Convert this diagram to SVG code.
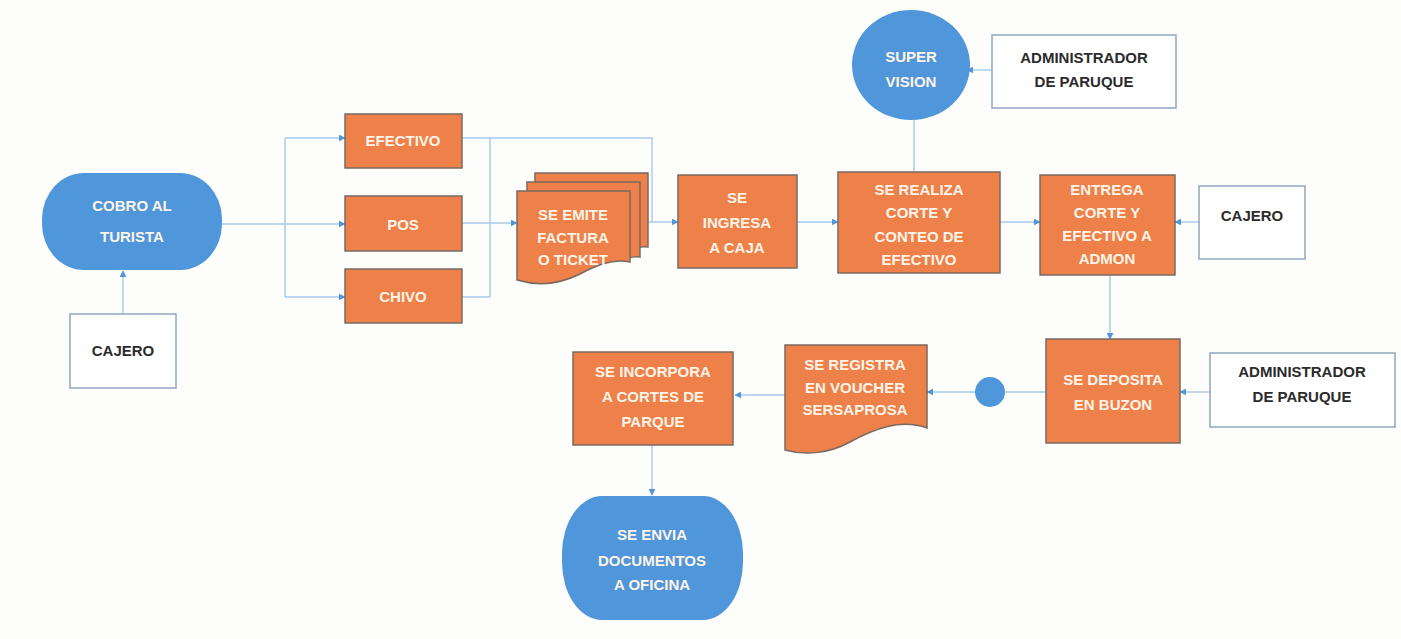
<svg xmlns="http://www.w3.org/2000/svg" width="1401" height="639" viewBox="0 0 1401 639">
<style>
.bg{fill:#fdfdfc}
.proc{fill:#ee8049;stroke:#7a6a62;stroke-width:1.5}
.term{fill:#4f96db;stroke:none}
.actor{fill:#ffffff;stroke:#8ea6bd;stroke-width:1.5}
.wt{font-family:"Liberation Sans",Arial,sans-serif;font-weight:bold;font-size:15px;fill:#fff4e8;text-anchor:middle}
.dt{font-family:"Liberation Sans",Arial,sans-serif;font-weight:bold;font-size:15px;fill:#2b2b2b;text-anchor:middle}
.c{fill:none;stroke:#a8c8e8;stroke-width:1.4}
</style>
<defs>
<marker id="ah" viewBox="0 0 10 10" refX="9" refY="5" markerWidth="7" markerHeight="7" orient="auto" markerUnits="userSpaceOnUse">
<path d="M0,0 L10,5 L0,10 z" fill="#4f96db"/>
</marker>
</defs>
<rect class="bg" x="0" y="0" width="1401" height="639"/>

<g id="connectors">
<path class="c" d="M123,314 V271" marker-end="url(#ah)"/>
<path class="c" d="M222,224 H285"/>
<path class="c" d="M285,138 V297"/>
<path class="c" d="M285,138 H345" marker-end="url(#ah)"/>
<path class="c" d="M285,224 H345" marker-end="url(#ah)"/>
<path class="c" d="M285,297 H345" marker-end="url(#ah)"/>
<path class="c" d="M462,138 H652 V222"/>
<path class="c" d="M462,297 H490 M490,138 V297"/>
<path class="c" d="M462,223 H517" marker-end="url(#ah)"/>
<path class="c" d="M648,222 H678" marker-end="url(#ah)"/>
<path class="c" d="M797,222 H838" marker-end="url(#ah)"/>
<path class="c" d="M1000,222 H1040" marker-end="url(#ah)"/>
<path class="c" d="M1199,222 H1175" marker-end="url(#ah)"/>
<path class="c" d="M914,120 V172"/>
<path class="c" d="M992,70 H967" marker-end="url(#ah)"/>
<path class="c" d="M1110,275 V339" marker-end="url(#ah)"/>
<path class="c" d="M1210,392 H1180" marker-end="url(#ah)"/>
<path class="c" d="M1046,392 H1005"/>
<path class="c" d="M975,392 H927" marker-end="url(#ah)"/>
<path class="c" d="M785,395 H735" marker-end="url(#ah)"/>
<path class="c" d="M652,445 V495" marker-end="url(#ah)"/>
</g>

<g id="cobro">
<rect class="term" x="42" y="173" width="180" height="97" rx="42" ry="46"/>
<text class="wt" x="132" y="211">COBRO AL</text>
<text class="wt" x="132" y="242">TURISTA</text>
</g>

<g id="cajero1">
<rect class="actor" x="70" y="314" width="106" height="74"/>
<text class="dt" x="123" y="356">CAJERO</text>
</g>

<g id="efectivo">
<rect class="proc" x="345" y="114" width="117" height="54"/>
<text class="wt" x="403" y="146">EFECTIVO</text>
</g>

<g id="pos">
<rect class="proc" x="345" y="196" width="117" height="55"/>
<text class="wt" x="403" y="230">POS</text>
</g>

<g id="chivo">
<rect class="proc" x="345" y="269" width="117" height="54"/>
<text class="wt" x="403" y="302">CHIVO</text>
</g>

<g id="factura">
<path class="proc" d="M535,173 H648 V247 C640,246 640,247 630,249 L535,250 Z"/>
<path class="proc" d="M527,182 H640 V257 C634,256 632,257 625,259 L527,260 Z"/>
<path class="proc" d="M517,191 H630 V262 C612,258 595,266 580,274 C560,284 540,287 517,280 Z"/>
<text class="wt" x="573" y="220">SE EMITE</text>
<text class="wt" x="573" y="243">FACTURA</text>
<text class="wt" x="573" y="265">O TICKET</text>
</g>

<g id="ingresa">
<rect class="proc" x="678" y="175" width="119" height="93"/>
<text class="wt" x="737" y="203">SE</text>
<text class="wt" x="737" y="228">INGRESA</text>
<text class="wt" x="737" y="253">A CAJA</text>
</g>

<g id="supervision">
<ellipse class="term" cx="911" cy="65" rx="59" ry="55"/>
<text class="wt" x="911" y="62">SUPER</text>
<text class="wt" x="911" y="87">VISION</text>
</g>

<g id="admin1">
<rect class="actor" x="992" y="35" width="184" height="73"/>
<text class="dt" x="1084" y="63">ADMINISTRADOR</text>
<text class="dt" x="1084" y="87">DE PARUQUE</text>
</g>

<g id="corte">
<rect class="proc" x="838" y="172" width="162" height="101"/>
<text class="wt" x="919" y="195">SE REALIZA</text>
<text class="wt" x="919" y="218">CORTE Y</text>
<text class="wt" x="919" y="242">CONTEO DE</text>
<text class="wt" x="919" y="265">EFECTIVO</text>
</g>

<g id="entrega">
<rect class="proc" x="1040" y="175" width="135" height="100"/>
<text class="wt" x="1107" y="195">ENTREGA</text>
<text class="wt" x="1107" y="218">CORTE Y</text>
<text class="wt" x="1107" y="241">EFECTIVO A</text>
<text class="wt" x="1107" y="264">ADMON</text>
</g>

<g id="cajero2">
<rect class="actor" x="1199" y="186" width="106" height="73"/>
<text class="dt" x="1252" y="221">CAJERO</text>
</g>

<g id="deposita">
<rect class="proc" x="1046" y="339" width="134" height="104"/>
<text class="wt" x="1113" y="385">SE DEPOSITA</text>
<text class="wt" x="1113" y="410">EN BUZON</text>
</g>

<g id="admin2">
<rect class="actor" x="1210" y="353" width="185" height="74"/>
<text class="dt" x="1302" y="377">ADMINISTRADOR</text>
<text class="dt" x="1302" y="402">DE PARUQUE</text>
</g>

<g id="buzon">
<circle class="term" cx="990" cy="392" r="15"/>
</g>

<g id="voucher">
<path class="proc" d="M785,345 H927 V428 C900,418 872,430 850,442 C830,453 806,456 785,450 Z"/>
<text class="wt" x="855" y="370">SE REGISTRA</text>
<text class="wt" x="855" y="393">EN VOUCHER</text>
<text class="wt" x="855" y="415">SERSAPROSA</text>
</g>

<g id="incorpora">
<rect class="proc" x="573" y="352" width="160" height="93"/>
<text class="wt" x="653" y="377">SE INCORPORA</text>
<text class="wt" x="653" y="402">A CORTES DE</text>
<text class="wt" x="653" y="427">PARQUE</text>
</g>

<g id="envia">
<rect class="term" x="562" y="496" width="181" height="124" rx="40" ry="58"/>
<text class="wt" x="652" y="540">SE ENVIA</text>
<text class="wt" x="652" y="566">DOCUMENTOS</text>
<text class="wt" x="652" y="590">A OFICINA</text>
</g>
</svg>
